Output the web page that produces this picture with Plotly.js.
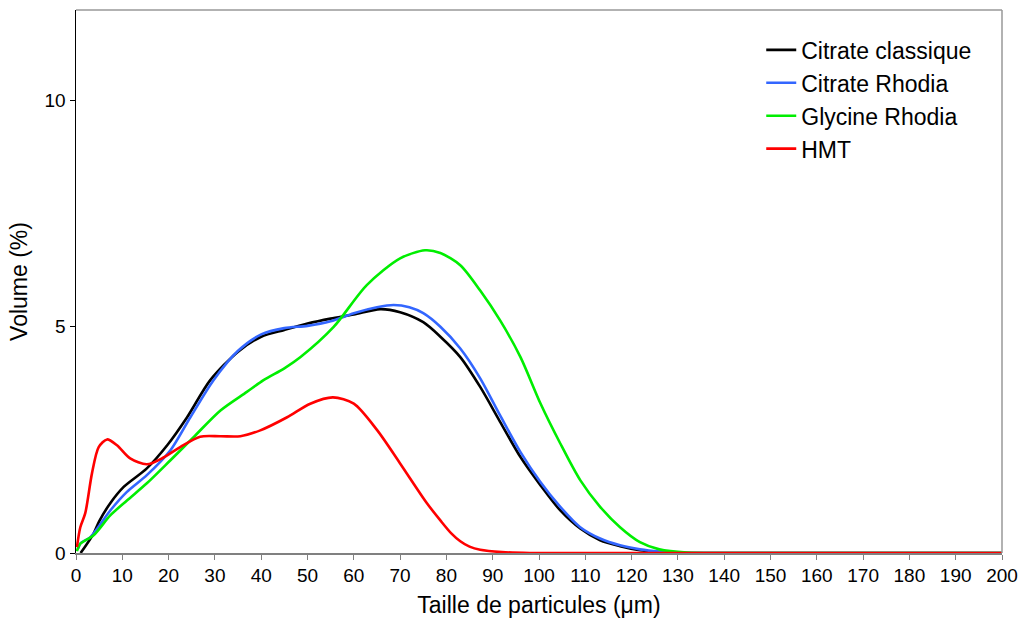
<!DOCTYPE html>
<html>
<head>
<meta charset="utf-8">
<script src="https://cdn.plot.ly/plotly-3.0.1.min.js"></script>
<style>html,body{margin:0;padding:0;background:#fff;}#chart{width:1023px;height:627px;}</style>
</head>
<body>
<div id="chart"></div>
<script>
const seriesNames = ["Citrate classique", "Citrate Rhodia", "Glycine Rhodia", "HMT"];
const seriesColors = ["#000000", "#3366ff", "#00ee00", "#ff0000"];

const citrateClassiqueX = [1, 3.8, 5, 7.4, 10.3, 15.3, 19.7, 24, 29, 35, 40, 45, 50, 55, 60, 65.7, 70, 75, 78.7, 83, 87.3, 91.6, 96, 100.3, 104.6, 108.9, 113.2, 117.5, 121.8, 126, 131, 140, 200];
const citrateClassiqueY = [0, 0.43, 0.7, 1.1, 1.46, 1.87, 2.38, 3.0, 3.82, 4.45, 4.78, 4.93, 5.07, 5.18, 5.27, 5.39, 5.32, 5.1, 4.78, 4.33, 3.67, 2.9, 2.12, 1.5, 0.94, 0.54, 0.28, 0.15, 0.06, 0.02, 0, 0, 0];

const citrateRhodiaX = [0.5, 0.93, 3.1, 7.4, 11, 15.3, 20.4, 24.7, 29.7, 35, 40, 45, 50, 55, 60, 65, 68.6, 72, 75, 78.7, 83, 87.3, 91.6, 96, 100.3, 104.6, 108.9, 113.2, 117.5, 121.8, 126, 131, 140, 200];
const citrateRhodiaY = [0.1, 0.21, 0.35, 0.94, 1.35, 1.72, 2.27, 3.0, 3.82, 4.47, 4.83, 4.97, 5.02, 5.12, 5.3, 5.43, 5.48, 5.43, 5.3, 5.0, 4.52, 3.86, 3.04, 2.23, 1.57, 1.02, 0.57, 0.32, 0.17, 0.08, 0.03, 0, 0, 0];

const glycineRhodiaX = [0.2, 0.9, 3.8, 7.4, 11, 15.3, 20.4, 25.4, 31.2, 36.9, 40.5, 45, 48.5, 55.6, 62.8, 70, 75.4, 78.7, 83, 87.3, 91.6, 96, 100.3, 104.6, 108.9, 113.2, 117.5, 121.8, 126, 132, 140, 200];
const glycineRhodiaY = [0.04, 0.2, 0.39, 0.83, 1.16, 1.54, 2.05, 2.56, 3.15, 3.56, 3.82, 4.08, 4.33, 4.99, 5.92, 6.51, 6.69, 6.63, 6.36, 5.8, 5.14, 4.33, 3.31, 2.42, 1.61, 1.02, 0.57, 0.24, 0.08, 0.01, 0, 0];

const hmtX = [0.2, 0.93, 2, 3.45, 4.9, 6.7, 8.85, 11.7, 15.3, 18.9, 22.5, 26.8, 31.2, 35.5, 39.8, 45.6, 50.6, 55.5, 60, 65, 70, 75.8, 78.7, 81, 83, 85, 87.3, 92, 98, 200];
const hmtY = [0.13, 0.57, 0.88, 1.76, 2.34, 2.51, 2.38, 2.09, 1.96, 2.11, 2.34, 2.57, 2.58, 2.58, 2.71, 3.0, 3.3, 3.44, 3.3, 2.72, 1.98, 1.1, 0.72, 0.44, 0.26, 0.14, 0.07, 0.02, 0, 0];

const xTickVals = [0,10,20,30,40,50,60,70,80,90,100,110,120,130,140,150,160,170,180,190,200];
const yTickVals = [0, 5, 10];

const xs = [citrateClassiqueX, citrateRhodiaX, glycineRhodiaX, hmtX];
const ys = [citrateClassiqueY, citrateRhodiaY, glycineRhodiaY, hmtY];

const traces = seriesNames.map((n, i) => ({
  x: xs[i], y: ys[i], name: n, type: 'scatter', mode: 'lines',
  line: {color: seriesColors[i], width: 2.6, shape: 'spline', smoothing: 0.8},
  legendgroup: 'g' + i, cliponaxis: false
}));

const layout = {
  width: 1023, height: 627,
  margin: {l: 76, r: 21, t: 10, b: 74},
  paper_bgcolor: '#ffffff', plot_bgcolor: '#ffffff',
  font: {family: '"Liberation Sans", Arial, sans-serif', color: '#000'},
  showlegend: true,
  legend: {x: 0.74, y: 0.966, xanchor: 'left', yanchor: 'top', font: {size: 23, color: '#000'},
           bgcolor: 'rgba(0,0,0,0)', traceorder: 'grouped', tracegroupgap: 0, itemwidth: 30},
  xaxis: {
    range: [0, 200], tickvals: xTickVals, ticks: 'outside', ticklen: 5, tickcolor: '#808080',
    showline: true, linecolor: '#808080', linewidth: 1.5, showgrid: false, zeroline: false,
    tickfont: {size: 19}, title: {text: 'Taille de particules (\u03bcm)', font: {size: 23}, standoff: 11},
    mirror: false
  },
  yaxis: {
    range: [0, 12], tickvals: yTickVals, ticks: 'outside', ticklen: 5, tickcolor: '#000',
    showline: true, linecolor: '#000', linewidth: 1.5, showgrid: false, zeroline: false,
    tickfont: {size: 19}, title: {text: 'Volume (%)', font: {size: 23}, standoff: 10}
  },
  shapes: [
    {type: 'line', xref: 'paper', yref: 'paper', x0: 0, x1: 1, y0: 1, y1: 1, line: {color: '#999999', width: 1.5}},
    {type: 'line', xref: 'paper', yref: 'paper', x0: 1, x1: 1, y0: 0, y1: 1, line: {color: '#999999', width: 1.5}}
  ]
};

Plotly.newPlot('chart', traces, layout, {displayModeBar: false, staticPlot: true});
</script>
</body>
</html>
